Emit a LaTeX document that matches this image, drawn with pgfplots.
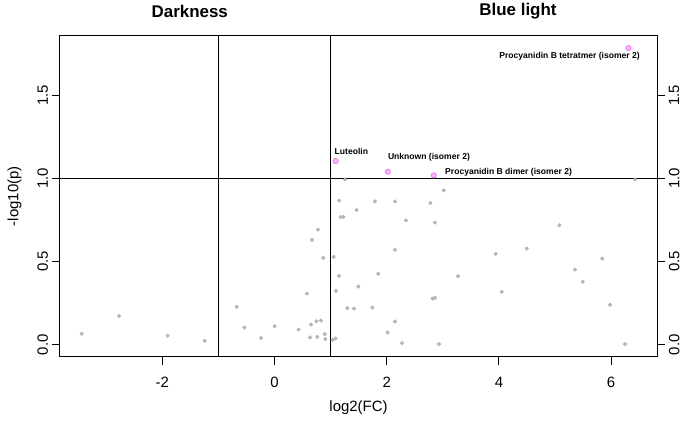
\documentclass[border=0pt]{standalone}
\usepackage{fontspec}
\setmainfont{Liberation Sans}
\usepackage{pgfplots}
\pgfplotsset{compat=1.18}

\definecolor{ptgray}{RGB}{190,190,190}
\definecolor{ptedge}{RGB}{160,160,160}
\definecolor{hitedge}{RGB}{238,120,238}
\definecolor{hitfill}{RGB}{248,185,248}

\pgfplotsset{
  volcano/.style={
    scale only axis, width=597.8bp, height=321bp,
    xmin=-3.83, xmax=6.825, ymin=-0.0714, ymax=1.857,
    axis line style={line width=0.9bp},
    tick style={line width=0.9bp, black},
    tick align=outside, major tick length=8bp,
    /pgf/number format/assume math mode=true,
    tick label style={font=\fontsize{15}{18}\selectfont},
    label style={font=\fontsize{15}{18}\selectfont},
    ytick={0,0.5,1,1.5},
    yticklabel style={rotate=90, anchor=south,
      /pgf/number format/fixed, /pgf/number format/fixed zerofill,
      /pgf/number format/precision=1},
    clip=false,
  },
}

\begin{document}
\begin{tikzpicture}
\useasboundingbox (-59.6bp,-64.3bp) rectangle (625.4bp,356.7bp);

\begin{axis}[volcano,
  xtick={-2,0,2,4,6}, xtick pos=bottom, ytick pos=left,
  xticklabel style={yshift=-9bp},
  xlabel={log2(FC)}, ylabel={-log10(p)},
  xlabel style={at={(rel axis cs:0.5,0)}, anchor=center, yshift=-51bp},
  ylabel style={at={(rel axis cs:0,0.5)}, anchor=center, yshift=45bp},
]
% threshold lines
\addplot[black, line width=0.9bp] coordinates {(-1,-0.0714) (-1,1.857)};
\addplot[black, line width=0.9bp] coordinates {(1,-0.0714) (1,1.857)};
\addplot[black, line width=0.9bp] coordinates {(-3.83,1) (6.825,1)};

% non-significant features
\addplot[only marks, mark=*, mark size=1.8bp,
  mark options={fill=ptgray, draw=ptedge, line width=0.3bp}] coordinates {
  (-3.437,0.066) (-2.772,0.174) (-1.904,0.054) (-1.244,0.024)
  (-0.674,0.228) (-0.538,0.104) (-0.241,0.040) (0.003,0.112)
  (0.431,0.092) (0.579,0.308) (0.651,0.122) (0.633,0.044)
  (0.746,0.142) (0.763,0.048) (0.829,0.146) (0.895,0.064)
  (0.906,0.034) (0.668,0.630) (0.775,0.692) (0.870,0.522)
  (1.037,0.030) (1.091,0.038) (1.055,0.528) (1.096,0.324)
  (1.150,0.414) (1.155,0.866) (1.180,0.768) (1.227,0.768)
  (1.257,0.994) (1.298,0.220) (1.417,0.218) (1.465,0.810)
  (1.494,0.350) (1.743,0.224) (1.791,0.862) (1.850,0.426)
  (2.018,0.074) (2.148,0.862) (2.148,0.570) (2.148,0.140)
  (2.273,0.010) (2.344,0.748) (2.778,0.852) (2.820,0.278)
  (2.861,0.282) (2.861,0.734) (2.932,0.004) (3.016,0.928)
  (3.271,0.412) (3.943,0.546) (4.050,0.318) (4.495,0.578)
  (5.077,0.718) (5.357,0.452) (5.494,0.378) (5.843,0.518)
  (5.980,0.240) (6.248,0.004) (6.430,0.994)
};

% significant features
\addplot[only marks, mark=*, mark size=2.6bp,
  mark options={fill=hitfill, draw=hitedge, line width=0.8bp}] coordinates {
  (1.09,1.104) (2.02,1.040) (2.84,1.018) (6.31,1.783)
};

\begin{scope}[every node/.style={font=\fontsize{8.6}{10}\selectfont\bfseries, inner sep=0pt}]
\node[anchor=west] at (axis cs:1.07,1.160) {Luteolin};
\node[anchor=west] at (axis cs:2.02,1.126) {Unknown (isomer 2)};
\node[anchor=west] at (axis cs:3.04,1.034) {Procyanidin B dimer (isomer 2)};
\node[anchor=east] at (axis cs:6.515,1.734) {Procyanidin B tetratmer (isomer 2)};
\end{scope}

\node[font=\fontsize{17}{20}\selectfont\bfseries] at (axis cs:-1.51,2.004) {Darkness};
\node[font=\fontsize{17}{20}\selectfont\bfseries] at (axis cs:4.34,2.004) {Blue light};
\end{axis}

% right-hand y axis labels
\begin{axis}[volcano,
  axis x line=none, axis y line*=right,
  yticklabel pos=right,
  yticklabel style={anchor=north},
]
\addplot[draw=none] coordinates {(0,0)};
\end{axis}
\end{tikzpicture}
\end{document}
